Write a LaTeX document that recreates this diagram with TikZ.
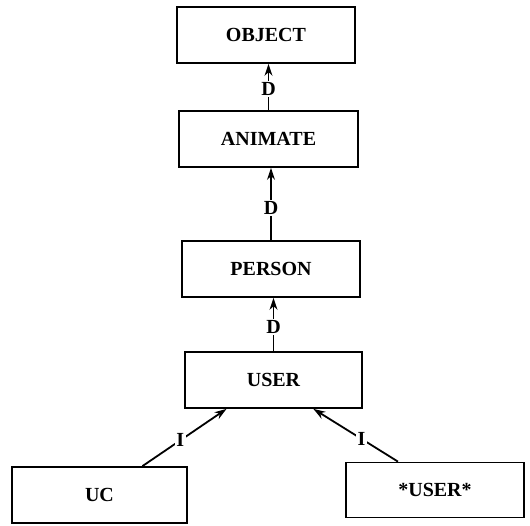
\documentclass[tikz,border=0pt]{standalone}
\usepackage{fontspec}
\setmainfont{Liberation Serif}
\usetikzlibrary{arrows.meta,calc}
\begin{document}
\begin{tikzpicture}[x=1pt,y=-1pt,
  box/.style={draw,line width=1.8pt,minimum height=56pt,inner sep=0pt,
    font=\fontsize{20}{22}\selectfont\bfseries},
  rel/.style={line width=1.8pt,-{Stealth[length=12pt,width=8pt]}},
  lab/.style={fill=white,inner sep=1.5pt,font=\fontsize{20}{22}\selectfont\bfseries}]
\useasboundingbox (0,0) rectangle (530,525);

% concept boxes
\node[box,minimum width=178pt] (object)  at (266,35)    {OBJECT};
\node[box,minimum width=179pt] (animate) at (268.5,139) {ANIMATE};
\node[box,minimum width=178pt] (person)  at (271,269)   {PERSON};
\node[box,minimum width=177pt] (user)    at (273.5,380) {USER};
\node[box,minimum width=175pt] (uc)      at (99.5,495)  {UC};
\node[box,minimum width=178pt,minimum height=55pt] (star) at (435,490) {*USER*};

% D links between the vertical chain
\draw[rel] (animate.north) -- node[lab,pos=0.45] {D} (animate.north |- object.south);
\draw[rel] (person.north)  -- node[lab,pos=0.45] {D} (person.north |- animate.south);
\draw[rel] (user.north)    -- node[lab,pos=0.45] {D} (user.north |- person.south);

% I links from the instances
\coordinate (ucTop)   at ($(uc.north west)!0.743!(uc.north east)$);
\coordinate (userL)   at ($(user.south west)!0.237!(user.south east)$);
\coordinate (starTop) at ($(star.north west)!0.294!(star.north east)$);
\coordinate (userR)   at ($(user.south west)!0.723!(user.south east)$);
\draw[rel] (ucTop)   -- node[lab,pos=0.45] {I} (userL);
\draw[rel] (starTop) -- node[lab,pos=0.43] {I} (userR);
\end{tikzpicture}
\end{document}
